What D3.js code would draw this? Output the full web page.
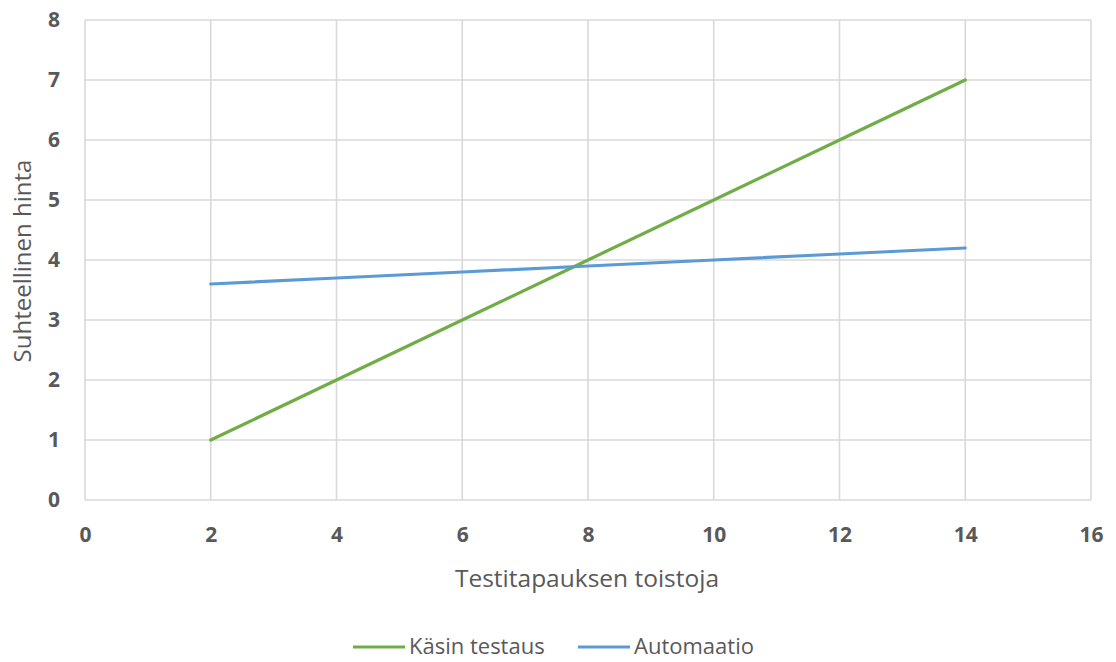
<!DOCTYPE html>
<html><head><meta charset="utf-8">
<script src="https://cdn.jsdelivr.net/npm/d3@7"></script>
<style>body{margin:0;background:#fff;} svg{display:block;font-family:"Open Sans",sans-serif;}</style>
</head><body>
<svg id="c" width="1116" height="662"></svg>
<script>
const xValues = [2, 4, 6, 8, 10, 12, 14];
const manualCost = [1, 2, 3, 4, 5, 6, 7];
const automationCost = [3.6, 3.7, 3.8, 3.9, 4.0, 4.1, 4.2];
const seriesNames = ["Käsin testaus", "Automaatio"];
const xTicks = [0, 2, 4, 6, 8, 10, 12, 14, 16];
const yTicks = [0, 1, 2, 3, 4, 5, 6, 7, 8];
const xTitle = "Testitapauksen toistoja";
const yTitle = "Suhteellinen hinta";
const colors = ["#70ad47", "#5b9bd5"];

const svg = d3.select("#c");
const m = {l: 85, r: 1091, t: 20, b: 500};
const x = d3.scaleLinear().domain([0, 16]).range([m.l, m.r]);
const y = d3.scaleLinear().domain([0, 8]).range([m.b, m.t]);

// gridlines
const g = svg.append("g");
g.selectAll("line.v").data(xTicks).join("line")
  .attr("x1", d => x(d)).attr("x2", d => x(d)).attr("y1", m.t).attr("y2", m.b)
  .attr("stroke", "#d9d9d9").attr("stroke-width", 1.6);
g.selectAll("line.h").data(yTicks).join("line")
  .attr("x1", m.l).attr("x2", m.r).attr("y1", d => y(d)).attr("y2", d => y(d))
  .attr("stroke", "#d9d9d9").attr("stroke-width", 1.6);

// axes labels via d3 axes
const xAxis = svg.append("g").attr("transform", `translate(0,${m.b})`)
  .call(d3.axisBottom(x).tickValues(xTicks).tickSize(0).tickPadding(27));
const yAxis = svg.append("g").attr("transform", `translate(${m.l},0)`)
  .call(d3.axisLeft(y).tickValues(yTicks).tickSize(0).tickPadding(25));
[xAxis, yAxis].forEach(a => {
  a.select(".domain").remove();
  a.selectAll("text").attr("font-family", "Open Sans, sans-serif")
    .attr("font-size", 21).attr("font-weight", "bold").attr("fill", "#595959");
});

// lines
const series = [manualCost, automationCost];
const line = d3.line().x((d, i) => x(xValues[i])).y(d => y(d));
series.forEach((s, k) => {
  svg.append("path").datum(s).attr("d", line).attr("fill", "none")
    .attr("stroke", colors[k]).attr("stroke-width", 3.2).attr("stroke-linecap", "round");
});

// titles
svg.append("text").attr("x", 587).attr("y", 587).attr("text-anchor", "middle")
  .attr("font-size", 24.5).attr("fill", "#595959").text(xTitle);
svg.append("text").attr("transform", `translate(31,261) rotate(-90)`)
  .attr("text-anchor", "middle").attr("font-size", 24).attr("fill", "#595959").text(yTitle);

// legend
const legX = [353, 578];
seriesNames.forEach((n, k) => {
  const lg = svg.append("g").attr("transform", `translate(${legX[k]},647)`);
  lg.append("line").attr("x1", 0).attr("x2", 52).attr("y1", 0).attr("y2", 0)
    .attr("stroke", colors[k]).attr("stroke-width", 3.2);
  lg.append("text").attr("x", 56).attr("y", 7).attr("font-size", 22).attr("fill", "#595959").text(n);
});
</script>
</body></html>
